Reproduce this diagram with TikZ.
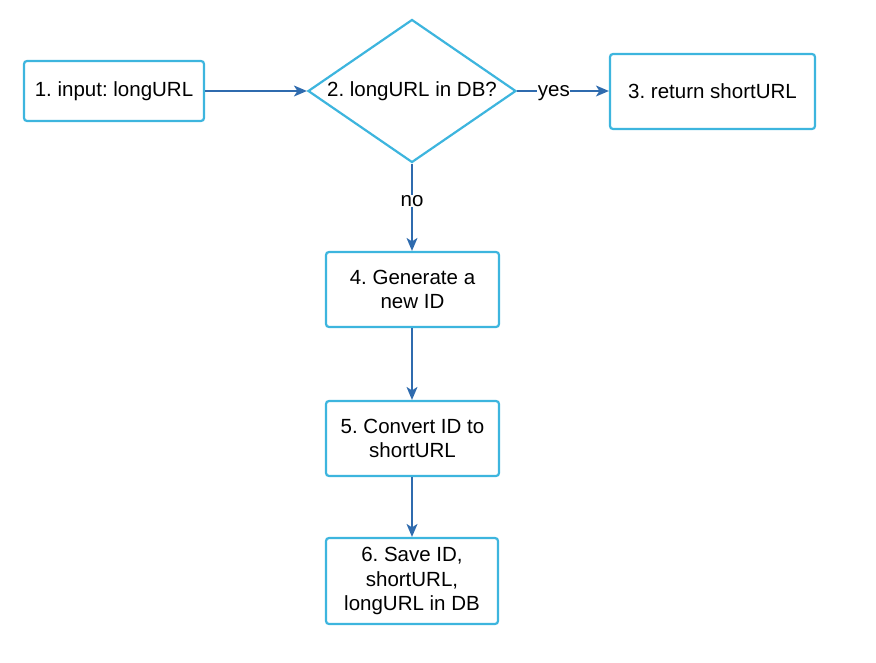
\documentclass[tikz,border=0pt]{standalone}
\usepackage{fontspec}
\setmainfont{Liberation Sans}
\usetikzlibrary{shapes.geometric,arrows.meta}
\definecolor{boxc}{HTML}{3DB5DE}
\definecolor{arrc}{HTML}{2F6BAE}
\frenchspacing
\begin{document}
\begin{tikzpicture}[x=1pt,y=-1pt,
  every node/.style={font=\fontsize{20.5}{24.5}\selectfont},
  stepbox/.style={draw=boxc, line width=2.2pt, rounded corners=3pt, align=center, inner sep=0pt, fill=white},
  decision/.style={draw=boxc, line width=2.2pt, diamond, aspect=1.455, inner sep=0pt, minimum width=208pt, minimum height=143pt, fill=white},
  flow/.style={draw=arrc, line width=1.3pt, -{Stealth[length=13pt,width=11pt,inset=3.5pt]}},
  lbl/.style={fill=white, inner sep=0.5pt}
]
\useasboundingbox (0,0) rectangle (876,663);
\node[stepbox, minimum width=180pt, minimum height=60pt] (n1) at (114,91) {1. input: longURL};
\node[decision] (n2) at (412,91) {2. longURL in DB?};
\node[stepbox, minimum width=205pt, minimum height=75pt] (n3) at (712.5,91.5) {3. return shortURL};
\node[stepbox, minimum width=173pt, minimum height=75pt] (n4) at (412.5,289.5) {4. Generate a\\new ID};
\node[stepbox, minimum width=173pt, minimum height=75pt] (n5) at (412.5,438.5) {5. Convert ID to\\shortURL};
\node[stepbox, minimum width=172pt, minimum height=86pt] (n6) at (412,581) {6. Save ID,\\shortURL,\\longURL in DB};
\draw[flow] (n1.east) -- (n2.west);
\draw[flow] (n2.east) -- node[lbl, pos=0.4, yshift=-2pt] {yes} (n3.west |- n2.east);
\draw[flow] (n2.south) -- node[lbl, pos=0.43] {no} (n4.north -| n2.south);
\draw[flow] (n4.south -| n2.south) -- (n5.north -| n2.south);
\draw[flow] (n5.south -| n2.south) -- (n6.north -| n2.south);
\end{tikzpicture}
\end{document}
